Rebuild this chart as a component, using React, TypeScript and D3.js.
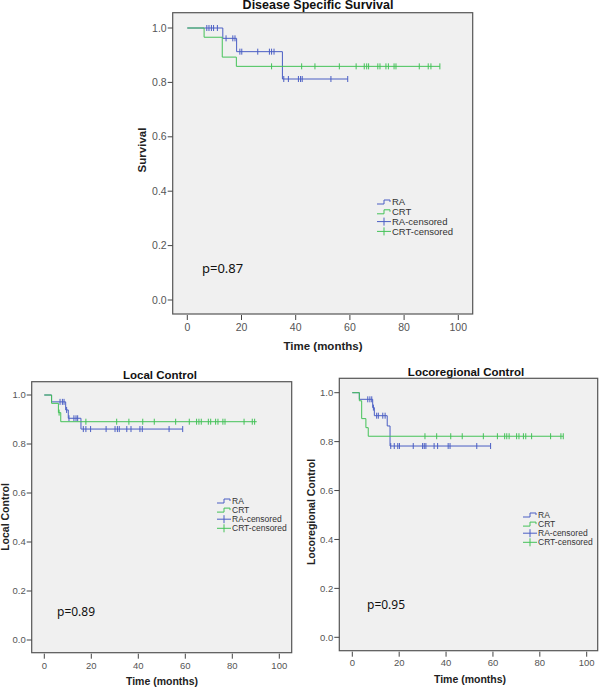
import * as d3 from "d3";

// ---- data (time in months, survival proportion) ----
const xTicks = [0, 20, 40, 60, 80, 100];
const yTicks = [0, 0.2, 0.4, 0.6, 0.8, 1.0];
const legendLabels = ["RA", "CRT", "RA-censored", "CRT-censored"];

// Disease specific survival
const dssRA: [number, number][] = [[0, 1], [13.1, 0.962], [18.2, 0.913], [35.1, 0.8125], [59.2, 0.8125]];
const dssRACens = [7.2, 8.0, 8.9, 9.7, 11.1, 14.3, 16.8, 17.6, 19.4, 20.1, 26.0, 30.3, 31.1, 32.0, 35.6, 37.3, 41.0, 41.8, 42.4, 53.0, 59.2];
const dssCRT: [number, number][] = [[0, 1], [6.2, 0.966], [12.9, 0.893], [18.1, 0.859], [93.2, 0.859]];
const dssCRTCens = [31.1, 42.2, 47.1, 56.1, 62.3, 65.3, 66.2, 66.9, 70.3, 71.1, 73.3, 74.2, 76.3, 77.0, 85.6, 88.9, 89.9, 93.2];

// Local control
const lcRA: [number, number][] = [[0, 1], [3.1, 0.972], [9.1, 0.939], [10.2, 0.905], [15.6, 0.861], [58.9, 0.861]];
const lcRACens = [6.7, 7.7, 8.4, 9.5, 10.5, 12.6, 13.5, 14.2, 16.6, 17.7, 19.7, 26.3, 30.1, 31.1, 31.9, 35.1, 36.9, 40.7, 41.7, 53.1, 58.9];
const lcCRT: [number, number][] = [[0, 1], [3.1, 0.966], [6.0, 0.928], [7.0, 0.891], [90.4, 0.891]];
const lcCRTCens = [6.3, 17.7, 30.8, 36.0, 41.9, 46.8, 55.9, 61.7, 64.8, 65.8, 66.8, 69.8, 70.8, 72.9, 73.9, 76.0, 76.9, 85.0, 88.5, 89.5];

// Locoregional control
const lrcRA: [number, number][] = [[0, 1], [3.0, 0.973], [8.7, 0.939], [9.4, 0.906], [14.9, 0.864], [16.1, 0.782], [59.0, 0.782]];
const lrcRACens = [6.6, 7.5, 8.3, 9.0, 10.4, 11.1, 13.0, 14.0, 16.4, 17.9, 19.4, 20.1, 26.0, 30.0, 30.7, 31.4, 34.9, 36.4, 40.9, 41.7, 53.1, 59.0];
const lrcCRT: [number, number][] = [[0, 1], [3.0, 0.967], [4.0, 0.894], [5.8, 0.857], [6.8, 0.822], [90.0, 0.822]];
const lrcCRTCens = [31.0, 36.0, 42.0, 46.9, 55.9, 61.9, 65.0, 65.9, 66.9, 70.1, 71.1, 73.0, 74.0, 76.5, 84.6, 89.0, 90.0];

const BLUE = "#4a5ec4";
const GREEN = "#44c258";
const FONT = "'Liberation Sans', Arial, sans-serif";

interface PanelProps {
  box: [number, number, number, number]; // left, top, right, bottom
  xr: [number, number]; // pixel of 0 and 100
  yr: [number, number]; // pixel of 0 and 1
  title: string;
  titleX: number;
  titleY: number;
  titleSize: number;
  yLabel: string;
  yLabelX: number;
  yLabelY: number;
  xLabelX: number;
  xLabelY: number;
  tickSize: number;
  tickLabelY: number;
  legendX: number;
  legendY: number;
  legendStep: number;
  legendSize: number;
  pText: string;
  pX: number;
  pY: number;
  ra: [number, number][];
  raCens: number[];
  crt: [number, number][];
  crtCens: number[];
}

function stepValue(steps: [number, number][], t: number) {
  let v = steps[0][1];
  for (const [tt, s] of steps) if (tt <= t) v = s;
  return v;
}

function Panel(p: PanelProps) {
  const [L, T, R, B] = p.box;
  const x = d3.scaleLinear().domain([0, 100]).range(p.xr);
  const y = d3.scaleLinear().domain([0, 1]).range(p.yr);
  const line = d3.line<[number, number]>().x(d => x(d[0])).y(d => y(d[1])).curve(d3.curveStepAfter);
  const series = [
    { steps: p.ra, cens: p.raCens, color: BLUE },
    { steps: p.crt, cens: p.crtCens, color: GREEN },
  ];
  return (
    <g>
      <text x={p.titleX} y={p.titleY} textAnchor="middle" fontFamily={FONT} fontWeight="bold" fontSize={p.titleSize} fill="#111">{p.title}</text>
      <rect x={L} y={T} width={R - L} height={B - T} fill="#f0f0f0" stroke="#555" strokeWidth={1.2} />
      {yTicks.map(v => (
        <g key={v}>
          <line x1={L - 5} x2={L} y1={y(v)} y2={y(v)} stroke="#444" />
          <text x={L - 6} y={y(v)} dy="0.35em" textAnchor="end" fontFamily={FONT} fontSize={p.tickSize} fill="#555">{v.toFixed(1)}</text>
        </g>
      ))}
      {xTicks.map(v => (
        <g key={v}>
          <line x1={x(v)} x2={x(v)} y1={B + 1} y2={B + 6} stroke="#444" />
          <text x={x(v)} y={p.tickLabelY} textAnchor="middle" fontFamily={FONT} fontSize={p.tickSize} fill="#555">{v}</text>
        </g>
      ))}
      <text x={p.xLabelX} y={p.xLabelY} textAnchor="middle" fontFamily={FONT} fontWeight="bold" fontSize={p.tickSize + 1} fill="#222">Time (months)</text>
      <text transform={`translate(${p.yLabelX},${p.yLabelY}) rotate(-90)`} textAnchor="middle" fontFamily={FONT} fontWeight="bold" fontSize={p.tickSize + 1} fill="#222">{p.yLabel}</text>
      {series.map((s, i) => (
        <g key={i}>
          <path d={line(s.steps) ?? ""} fill="none" stroke={s.color} strokeWidth={1} />
          {s.cens.map((t, j) => (
            <line key={j} x1={x(t)} x2={x(t)} y1={y(stepValue(s.steps, t)) - 3} y2={y(stepValue(s.steps, t)) + 3} stroke={s.color} strokeWidth={1} />
          ))}
        </g>
      ))}
      {legendLabels.map((lab, i) => {
        const ly = p.legendY + i * p.legendStep;
        const c = i % 2 === 0 ? BLUE : GREEN;
        const lx = p.legendX;
        return (
          <g key={lab}>
            {i < 2 ? (
              <path d={`M${lx},${ly + 2}H${lx + 7}V${ly - 2}H${lx + 13}V${ly}`} fill="none" stroke={c} />
            ) : (
              <g>
                <line x1={lx} x2={lx + 14} y1={ly} y2={ly} stroke={c} />
                <line x1={lx + 7} x2={lx + 7} y1={ly - 4} y2={ly + 4} stroke={c} />
              </g>
            )}
            <text x={lx + 15} y={ly} dy="0.35em" fontFamily={FONT} fontSize={p.legendSize} fill="#333">{lab}</text>
          </g>
        );
      })}
      <text x={p.pX} y={p.pY} fontFamily="'Noto Sans', 'Open Sans', sans-serif" fontSize={p.tickSize + 2.5} fill="#111">{p.pText}</text>
    </g>
  );
}

export default function App() {
  return (
    <svg width={600} height={687} style={{ position: "absolute", left: 0, top: 0, background: "#fff" }}>
      <Panel
        box={[172.7, 12.7, 472.7, 314]} xr={[187.3, 458.3]} yr={[300, 28]}
        title="Disease Specific Survival" titleX={318} titleY={9} titleSize={12.5}
        yLabel="Survival" yLabelX={146} yLabelY={150} xLabelX={323} xLabelY={350}
        tickSize={10.5} tickLabelY={331}
        legendX={377} legendY={202} legendStep={9.8} legendSize={9.5}
        pText="p=0.87" pX={202} pY={273}
        ra={dssRA} raCens={dssRACens} crt={dssCRT} crtCens={dssCRTCens}
      />
      <Panel
        box={[31.7, 381.7, 291.7, 652.7]} xr={[44.3, 279.3]} yr={[640, 395]}
        title="Local Control" titleX={160} titleY={379} titleSize={11.5}
        yLabel="Local Control" yLabelX={9} yLabelY={517} xLabelX={162} xLabelY={685}
        tickSize={9.5} tickLabelY={669}
        legendX={217} legendY={501} legendStep={9.1} legendSize={8.5}
        pText="p=0.89" pX={57} pY={616}
        ra={lcRA} raCens={lcRACens} crt={lcCRT} crtCens={lcCRTCens}
      />
      <Panel
        box={[339.3, 378.3, 597.7, 650.7]} xr={[352.3, 586.7]} yr={[637.3, 392.7]}
        title="Locoregional Control" titleX={466} titleY={376} titleSize={11.5}
        yLabel="Locoregional Control" yLabelX={315} yLabelY={512} xLabelX={470} xLabelY={683}
        tickSize={9.5} tickLabelY={666}
        legendX={523} legendY={515} legendStep={9.1} legendSize={8.5}
        pText="p=0.95" pX={367} pY={609}
        ra={lrcRA} raCens={lrcRACens} crt={lrcCRT} crtCens={lrcCRTCens}
      />
    </svg>
  );
}
